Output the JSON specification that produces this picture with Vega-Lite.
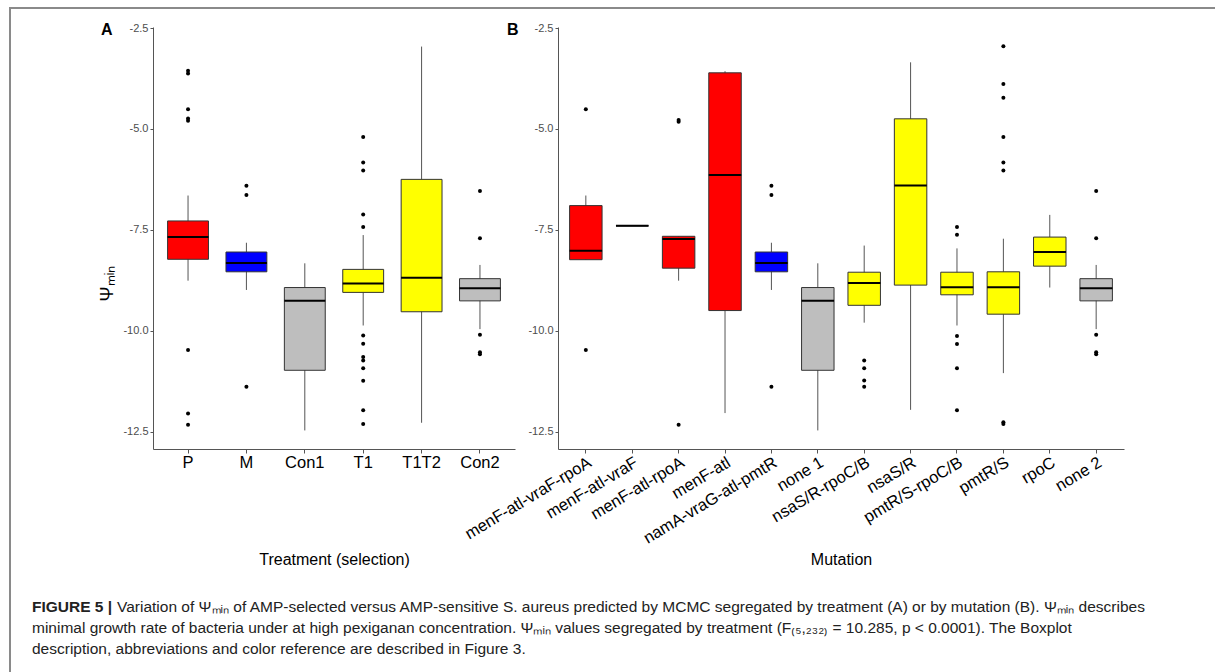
{
  "$schema": "https://vega.github.io/schema/vega-lite/v6.json",
  "padding": {"left": 9, "top": 7, "right": 0, "bottom": 0},
  "background": "white",
  "config": {
    "view": {"stroke": null},
    "font": "Liberation Sans",
    "axis": {"grid": false, "labelFont": "Liberation Sans", "titleFont": "Liberation Sans", "titleFontWeight": "normal", "domainColor": "#555555", "tickColor": "#555555", "titleColor": "#000000"},
    "title": {"font": "Liberation Sans"}
  },
  "datasets": {
    "statsA": [
      {"trt": "P", "selection": "P", "lo": -8.76, "q1": -8.23, "med": -7.68, "q3": -7.28, "hi": -6.65},
      {"trt": "M", "selection": "M", "lo": -8.99, "q1": -8.54, "med": -8.32, "q3": -8.05, "hi": -7.82},
      {"trt": "Con1", "selection": "C", "lo": -12.47, "q1": -10.98, "med": -9.26, "q3": -8.93, "hi": -8.33},
      {"trt": "T1", "selection": "T", "lo": -9.87, "q1": -9.05, "med": -8.83, "q3": -8.48, "hi": -7.63},
      {"trt": "T1T2", "selection": "T", "lo": -12.28, "q1": -9.53, "med": -8.69, "q3": -6.25, "hi": -2.96},
      {"trt": "Con2", "selection": "C", "lo": -9.96, "q1": -9.26, "med": -8.95, "q3": -8.71, "hi": -8.37}
    ],
    "outA": [
      {"trt": "P", "v": -3.56}, {"trt": "P", "v": -3.63}, {"trt": "P", "v": -4.51}, {"trt": "P", "v": -4.74}, {"trt": "P", "v": -4.80}, {"trt": "P", "v": -10.48}, {"trt": "P", "v": -12.05}, {"trt": "P", "v": -12.33},
      {"trt": "M", "v": -6.41}, {"trt": "M", "v": -6.64}, {"trt": "M", "v": -11.39},
      {"trt": "T1", "v": -5.20}, {"trt": "T1", "v": -5.83}, {"trt": "T1", "v": -6.03}, {"trt": "T1", "v": -7.12}, {"trt": "T1", "v": -7.43}, {"trt": "T1", "v": -10.12}, {"trt": "T1", "v": -10.32}, {"trt": "T1", "v": -10.65}, {"trt": "T1", "v": -10.74}, {"trt": "T1", "v": -10.93}, {"trt": "T1", "v": -11.24}, {"trt": "T1", "v": -11.97}, {"trt": "T1", "v": -12.31},
      {"trt": "Con2", "v": -6.54}, {"trt": "Con2", "v": -7.71}, {"trt": "Con2", "v": -10.10}, {"trt": "Con2", "v": -10.53}, {"trt": "Con2", "v": -10.58}
    ],
    "statsB": [
      {"mut": "menF-atl-vraF-rpoA", "selection": "P", "lo": -8.24, "q1": -8.24, "med": -8.02, "q3": -6.90, "hi": -6.65},
      {"mut": "menF-atl-vraF", "selection": "P", "lo": -7.40, "q1": -7.40, "med": -7.40, "q3": -7.40, "hi": -7.40},
      {"mut": "menF-atl-rpoA", "selection": "P", "lo": -8.76, "q1": -8.45, "med": -7.73, "q3": -7.66, "hi": -7.66},
      {"mut": "menF-atl", "selection": "P", "lo": -12.04, "q1": -9.50, "med": -6.14, "q3": -3.61, "hi": -3.57},
      {"mut": "namA-vraG-atl-pmtR", "selection": "M", "lo": -8.99, "q1": -8.54, "med": -8.32, "q3": -8.05, "hi": -7.82},
      {"mut": "none 1", "selection": "C", "lo": -12.47, "q1": -10.98, "med": -9.26, "q3": -8.93, "hi": -8.33},
      {"mut": "nsaS/R-rpoC/B", "selection": "T", "lo": -9.80, "q1": -9.37, "med": -8.82, "q3": -8.55, "hi": -7.89},
      {"mut": "nsaS/R", "selection": "T", "lo": -11.96, "q1": -8.87, "med": -6.40, "q3": -4.75, "hi": -3.35},
      {"mut": "pmtR/S-rpoC/B", "selection": "T", "lo": -9.87, "q1": -9.11, "med": -8.92, "q3": -8.55, "hi": -7.96},
      {"mut": "pmtR/S", "selection": "T", "lo": -11.05, "q1": -9.59, "med": -8.92, "q3": -8.54, "hi": -7.72},
      {"mut": "rpoC", "selection": "T", "lo": -8.93, "q1": -8.40, "med": -8.05, "q3": -7.68, "hi": -7.13},
      {"mut": "none 2", "selection": "C", "lo": -9.96, "q1": -9.26, "med": -8.95, "q3": -8.71, "hi": -8.37}
    ],
    "outB": [
      {"mut": "menF-atl-vraF-rpoA", "v": -4.51}, {"mut": "menF-atl-vraF-rpoA", "v": -10.48},
      {"mut": "menF-atl-rpoA", "v": -4.78}, {"mut": "menF-atl-rpoA", "v": -4.82}, {"mut": "menF-atl-rpoA", "v": -12.33},
      {"mut": "namA-vraG-atl-pmtR", "v": -6.41}, {"mut": "namA-vraG-atl-pmtR", "v": -6.64}, {"mut": "namA-vraG-atl-pmtR", "v": -11.39},
      {"mut": "nsaS/R-rpoC/B", "v": -10.74}, {"mut": "nsaS/R-rpoC/B", "v": -10.93}, {"mut": "nsaS/R-rpoC/B", "v": -11.23}, {"mut": "nsaS/R-rpoC/B", "v": -11.39},
      {"mut": "pmtR/S-rpoC/B", "v": -7.43}, {"mut": "pmtR/S-rpoC/B", "v": -7.62}, {"mut": "pmtR/S-rpoC/B", "v": -10.13}, {"mut": "pmtR/S-rpoC/B", "v": -10.33}, {"mut": "pmtR/S-rpoC/B", "v": -10.93}, {"mut": "pmtR/S-rpoC/B", "v": -11.97},
      {"mut": "pmtR/S", "v": -2.95}, {"mut": "pmtR/S", "v": -3.89}, {"mut": "pmtR/S", "v": -4.23}, {"mut": "pmtR/S", "v": -5.20}, {"mut": "pmtR/S", "v": -5.83}, {"mut": "pmtR/S", "v": -6.03}, {"mut": "pmtR/S", "v": -12.27}, {"mut": "pmtR/S", "v": -12.31},
      {"mut": "none 2", "v": -6.54}, {"mut": "none 2", "v": -7.71}, {"mut": "none 2", "v": -10.10}, {"mut": "none 2", "v": -10.53}, {"mut": "none 2", "v": -10.58}
    ],
    "caption": [
      {"line": 1, "part": "head", "text": "FIGURE 5 |"},
      {"line": 1, "part": "body", "text": "Variation of Ψₘᵢₙ of AMP-selected versus AMP-sensitive S. aureus predicted by MCMC segregated by treatment (A) or by mutation (B). Ψₘᵢₙ describes"},
      {"line": 2, "part": "body", "text": "minimal growth rate of bacteria under at high pexiganan concentration. Ψₘᵢₙ values segregated by treatment (F₍₅,₂₃₂₎ = 10.285, p < 0.0001). The Boxplot"},
      {"line": 3, "part": "body", "text": "description, abbreviations and color reference are described in Figure 3."}
    ]
  },
  "bounds": "flush",
  "spacing": 0,
  "hconcat": [
    {"width": 2, "height": 665, "view": {"fill": "#8a8a8a", "stroke": null}, "data": {"values": []}, "mark": "point", "encoding": {}},
    {
      "bounds": "flush",
      "spacing": 18,
      "vconcat": [
        {"width": 1204, "height": 2, "view": {"fill": "#8a8a8a", "stroke": null}, "data": {"values": []}, "mark": "point", "encoding": {}},
        {
          "bounds": "flush",
          "spacing": 580,
          "vconcat": [
            {
              "bounds": "flush",
              "spacing": 141,
              "hconcat": [
                {"width": 1, "height": 1, "data": {"values": []}, "mark": "point", "encoding": {}},
                {
                  "bounds": "flush",
                  "spacing": 43,
                  "hconcat": [
                    {
                      "width": 362, "height": 422,
                      "title": {"text": "A", "anchor": "start", "frame": "group", "fontSize": 16, "fontWeight": "bold", "color": "#000000", "dx": -52, "offset": 0, "baseline": "middle", "dy": 24},
                      "layer": [
                        {"data": {"name": "statsA"}, "mark": {"type": "rule", "color": "#555555", "strokeWidth": 1},
                         "encoding": {
                           "x": {"field": "trt", "type": "nominal", "scale": {"type": "band", "domain": ["P", "M", "Con1", "T1", "T1T2", "Con2"], "paddingInner": 0.3, "paddingOuter": 0.25},
                                 "axis": {"title": "Treatment (selection)", "labelAngle": 0, "labelFontSize": 16.5, "labelColor": "#000000", "tickSize": 4, "labelPadding": 1, "titleFontSize": 16, "titleY": 110, "titleBaseline": "middle"}},
                           "y": {"field": "lo", "type": "quantitative", "scale": {"domain": [-12.93, -2.475], "nice": false, "zero": false},
                                 "axis": {"title": "Ψₘᵢₙ", "values": [-12.5, -10, -7.5, -5, -2.5], "format": ".1f", "labelExpr": "replace(datum.label, '−', '-')", "labelFontSize": 11, "labelColor": "#4d4d4d", "tickSize": 3, "labelPadding": 2, "titleFontSize": 18, "titleAngle": -90, "titleX": -46, "titleY": 256, "titleBaseline": "middle", "titleAlign": "center"}},
                           "y2": {"field": "hi"}
                         }},
                        {"data": {"name": "statsA"}, "mark": {"type": "bar", "stroke": "#333333", "strokeWidth": 1},
                         "encoding": {
                           "x": {"field": "trt", "type": "nominal", "scale": {"type": "band", "domain": ["P", "M", "Con1", "T1", "T1T2", "Con2"], "paddingInner": 0.3, "paddingOuter": 0.25}},
                           "y": {"field": "q1", "type": "quantitative"},
                           "y2": {"field": "q3"},
                           "color": {"field": "selection", "type": "nominal", "scale": {"domain": ["P", "M", "C", "T"], "range": ["#FF0000", "#0000FF", "#BEBEBE", "#FFFF00"]}, "legend": null}
                         }},
                        {"data": {"name": "statsA"}, "mark": {"type": "tick", "color": "#000000", "thickness": 2, "size": 41, "opacity": 1},
                         "encoding": {
                           "x": {"field": "trt", "type": "nominal", "scale": {"type": "band", "domain": ["P", "M", "Con1", "T1", "T1T2", "Con2"], "paddingInner": 0.3, "paddingOuter": 0.25}},
                           "y": {"field": "med", "type": "quantitative"}
                         }},
                        {"data": {"name": "outA"}, "mark": {"type": "circle", "color": "#000000", "size": 16, "opacity": 1},
                         "encoding": {
                           "x": {"field": "trt", "type": "nominal", "scale": {"type": "band", "domain": ["P", "M", "Con1", "T1", "T1T2", "Con2"], "paddingInner": 0.3, "paddingOuter": 0.25}},
                           "y": {"field": "v", "type": "quantitative"}
                         }}
                      ]
                    },
                    {
                      "width": 566, "height": 422,
                      "title": {"text": "B", "anchor": "start", "frame": "group", "fontSize": 16, "fontWeight": "bold", "color": "#000000", "dx": -51, "offset": 0, "baseline": "middle", "dy": 24},
                      "layer": [
                        {"data": {"name": "statsB"}, "mark": {"type": "rule", "color": "#555555", "strokeWidth": 1},
                         "encoding": {
                           "x": {"field": "mut", "type": "nominal", "scale": {"type": "band", "domain": ["menF-atl-vraF-rpoA", "menF-atl-vraF", "menF-atl-rpoA", "menF-atl", "namA-vraG-atl-pmtR", "none 1", "nsaS/R-rpoC/B", "nsaS/R", "pmtR/S-rpoC/B", "pmtR/S", "rpoC", "none 2"], "paddingInner": 0.3, "paddingOuter": 0.25},
                                 "axis": {"title": "Mutation", "labelAngle": -31, "labelAlign": "right", "labelBaseline": "top", "labelFontSize": 16.5, "labelColor": "#000000", "labelLimit": 400, "labelOverlap": false, "tickSize": 4, "labelPadding": 1, "titleFontSize": 16, "titleY": 110, "titleBaseline": "middle"}},
                           "y": {"field": "lo", "type": "quantitative", "scale": {"domain": [-12.93, -2.475], "nice": false, "zero": false},
                                 "axis": {"title": null, "values": [-12.5, -10, -7.5, -5, -2.5], "format": ".1f", "labelExpr": "replace(datum.label, '−', '-')", "labelFontSize": 11, "labelColor": "#4d4d4d", "tickSize": 3, "labelPadding": 2}},
                           "y2": {"field": "hi"}
                         }},
                        {"data": {"name": "statsB"}, "mark": {"type": "bar", "stroke": "#333333", "strokeWidth": 1},
                         "encoding": {
                           "x": {"field": "mut", "type": "nominal", "scale": {"type": "band", "domain": ["menF-atl-vraF-rpoA", "menF-atl-vraF", "menF-atl-rpoA", "menF-atl", "namA-vraG-atl-pmtR", "none 1", "nsaS/R-rpoC/B", "nsaS/R", "pmtR/S-rpoC/B", "pmtR/S", "rpoC", "none 2"], "paddingInner": 0.3, "paddingOuter": 0.25}},
                           "y": {"field": "q1", "type": "quantitative"},
                           "y2": {"field": "q3"},
                           "color": {"field": "selection", "type": "nominal", "scale": {"domain": ["P", "M", "C", "T"], "range": ["#FF0000", "#0000FF", "#BEBEBE", "#FFFF00"]}, "legend": null}
                         }},
                        {"data": {"name": "statsB"}, "mark": {"type": "tick", "color": "#000000", "thickness": 2, "size": 32.5, "opacity": 1},
                         "encoding": {
                           "x": {"field": "mut", "type": "nominal", "scale": {"type": "band", "domain": ["menF-atl-vraF-rpoA", "menF-atl-vraF", "menF-atl-rpoA", "menF-atl", "namA-vraG-atl-pmtR", "none 1", "nsaS/R-rpoC/B", "nsaS/R", "pmtR/S-rpoC/B", "pmtR/S", "rpoC", "none 2"], "paddingInner": 0.3, "paddingOuter": 0.25}},
                           "y": {"field": "med", "type": "quantitative"}
                         }},
                        {"data": {"name": "outB"}, "mark": {"type": "circle", "color": "#000000", "size": 16, "opacity": 1},
                         "encoding": {
                           "x": {"field": "mut", "type": "nominal", "scale": {"type": "band", "domain": ["menF-atl-vraF-rpoA", "menF-atl-vraF", "menF-atl-rpoA", "menF-atl", "namA-vraG-atl-pmtR", "none 1", "nsaS/R-rpoC/B", "nsaS/R", "pmtR/S-rpoC/B", "pmtR/S", "rpoC", "none 2"], "paddingInner": 0.3, "paddingOuter": 0.25}},
                           "y": {"field": "v", "type": "quantitative"}
                         }}
                      ]
                    }
                  ]
                }
              ]
            },
            {
              "width": 42, "height": 42,
              "data": {"name": "caption"},
              "encoding": {
                "y": {"field": "line", "type": "ordinal", "scale": {"type": "point", "padding": 0, "domain": [1, 2, 3]}, "axis": null},
                "text": {"field": "text", "type": "nominal"}
              },
              "layer": [
                {"transform": [{"filter": "datum.part == 'head'"}], "mark": {"type": "text", "align": "left", "baseline": "middle", "fontSize": 15.5, "fontWeight": "bold", "color": "#222222"}},
                {"transform": [{"filter": "datum.part == 'body' && datum.line == 1"}], "mark": {"type": "text", "align": "left", "baseline": "middle", "fontSize": 15.5, "color": "#222222", "dx": 85}},
                {"transform": [{"filter": "datum.line > 1"}], "mark": {"type": "text", "align": "left", "baseline": "middle", "fontSize": 15.5, "color": "#222222"}}
              ]
            }
          ]
        }
      ]
    }
  ]
}
